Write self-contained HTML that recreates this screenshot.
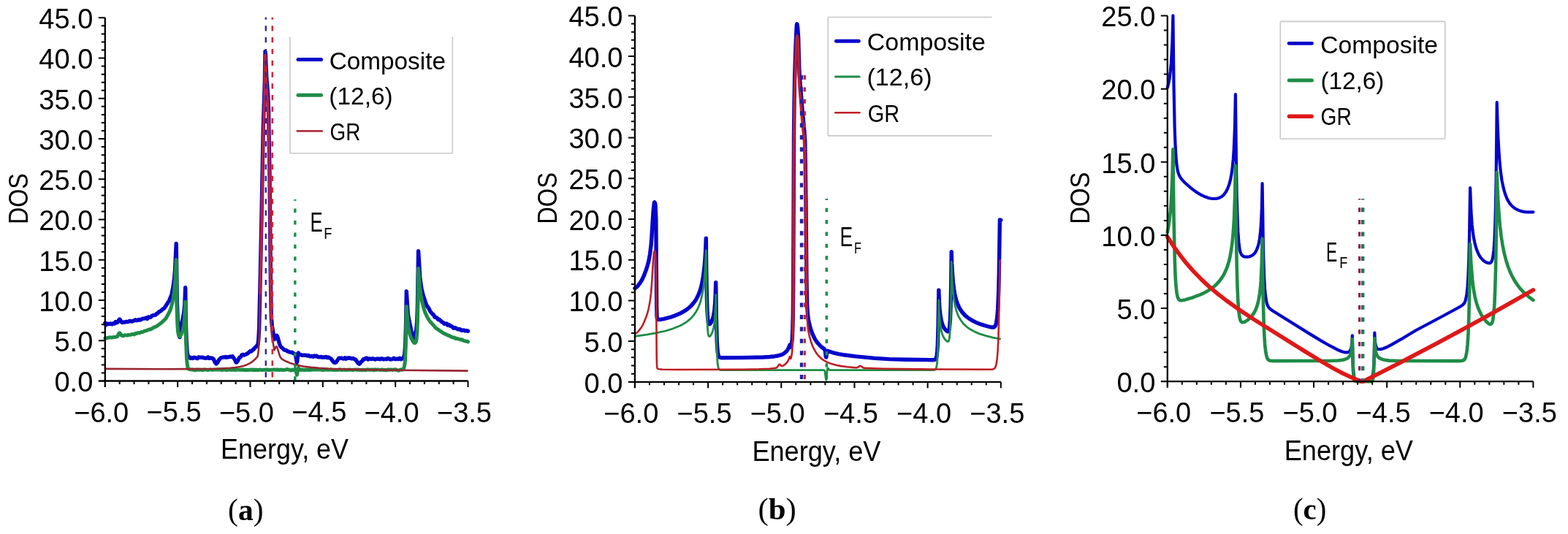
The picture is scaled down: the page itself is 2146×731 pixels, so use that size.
<!DOCTYPE html>
<html><head><meta charset="utf-8"><style>html,body{margin:0;padding:0;background:#fff;overflow:hidden}svg{display:block}</style></head><body>
<svg width="2146" height="731" viewBox="0 0 2146 731" font-family="'Liberation Sans', sans-serif">
<rect width="2146" height="731" fill="#fff"/>
<path d="M143.8,442.3 L145.4,444.8 L147.0,443.0 L148.6,443.5 L151.8,443.0 L153.4,443.9 L155.0,442.8 L156.6,443.0 L158.2,440.5 L159.8,441.8 L160.4,441.6 L161.4,440.5 L163.0,437.6 L163.6,437.1 L164.5,437.7 L166.2,440.8 L167.7,441.5 L169.4,441.0 L171.0,441.1 L172.6,440.3 L174.2,440.7 L175.8,440.4 L177.4,439.3 L180.6,440.0 L183.8,438.8 L185.4,437.8 L187.0,438.7 L188.6,438.4 L190.2,437.4 L191.8,438.0 L195.0,436.3 L198.2,435.9 L199.8,435.1 L201.4,436.5 L203.0,433.9 L204.6,434.5 L206.2,434.3 L207.8,432.5 L209.4,431.7 L212.6,431.1 L214.2,429.7 L215.8,428.8 L217.4,427.0 L220.6,425.3 L222.2,423.5 L223.8,422.6 L225.4,421.3 L231.8,411.1 L235.0,403.1 L237.1,392.0 L238.5,381.9 L239.5,370.6 L241.2,333.4 L242.4,415.1 L243.2,436.4 L244.4,452.4 L245.4,460.0 L245.8,461.4 L246.1,461.5 L246.3,461.2 L249.0,441.9 L251.6,429.1 L252.8,416.8 L253.7,393.6 L254.3,438.5 L255.1,465.6 L256.1,481.2 L256.7,485.6 L257.5,488.2 L258.1,488.7 L259.0,488.6 L260.6,490.5 L262.2,489.7 L263.8,490.5 L265.4,489.1 L270.2,490.8 L271.8,488.9 L273.4,489.4 L276.6,489.2 L279.8,490.1 L281.4,490.2 L283.0,490.1 L284.6,488.9 L286.2,490.5 L287.8,490.0 L290.0,490.2 L291.3,490.8 L292.6,492.2 L294.2,495.8 L295.8,498.0 L297.2,497.0 L300.6,491.4 L302.3,489.9 L305.4,489.0 L307.0,489.1 L308.6,488.5 L310.2,489.3 L311.8,488.6 L313.4,488.7 L315.0,488.2 L316.6,488.5 L318.2,487.8 L321.4,492.3 L322.8,495.7 L323.3,496.2 L324.1,495.7 L325.5,493.9 L327.8,489.3 L329.4,488.8 L331.0,485.8 L332.6,485.3 L334.2,486.1 L337.4,484.7 L340.6,482.5 L342.2,480.8 L343.8,481.0 L345.4,479.4 L347.0,478.4 L348.6,476.1 L350.2,475.0 L351.8,472.9 L352.5,472.5 L353.2,469.9 L353.8,464.9 L354.7,448.6 L357.8,306.1 L360.2,175.9 L362.4,110.3 L363.0,70.4 L363.5,76.1 L364.7,104.9 L366.8,131.8 L367.5,149.7 L369.0,238.7 L370.4,383.8 L371.3,434.0 L372.3,446.5 L375.5,464.5 L377.8,459.8 L378.4,459.2 L378.9,459.3 L380.1,462.1 L382.7,471.4 L384.0,474.0 L385.2,475.6 L387.0,476.9 L388.6,478.8 L391.8,479.5 L393.4,480.8 L396.6,482.1 L398.2,482.4 L399.8,482.3 L401.4,483.5 L403.6,484.4 L404.6,486.8 L406.3,496.3 L406.8,494.1 L407.8,484.2 L408.3,483.0 L409.4,485.3 L410.2,485.4 L411.0,485.1 L412.6,486.2 L417.4,486.1 L419.0,486.4 L420.6,487.0 L422.2,486.4 L423.8,487.7 L425.4,487.8 L427.0,487.4 L428.6,488.3 L430.2,487.0 L431.8,487.7 L433.4,487.2 L435.0,488.6 L436.6,488.9 L439.8,488.5 L441.4,489.3 L443.0,488.9 L444.6,489.2 L446.2,488.4 L447.8,489.7 L449.4,488.9 L453.5,491.6 L456.2,495.3 L457.2,496.2 L458.2,496.6 L459.5,496.2 L460.3,495.5 L463.3,490.9 L463.8,490.3 L464.4,490.2 L467.8,490.2 L470.2,491.1 L471.8,489.9 L473.4,491.3 L475.0,490.0 L476.6,490.4 L478.2,489.9 L481.4,491.0 L483.0,490.5 L486.5,492.2 L490.1,497.2 L491.7,498.2 L492.6,497.8 L494.2,495.4 L495.8,494.2 L497.4,491.7 L499.0,491.8 L500.6,490.3 L502.2,490.3 L503.8,492.1 L505.4,490.9 L508.6,491.6 L510.2,490.8 L513.4,492.1 L515.0,491.3 L518.2,491.2 L519.8,491.9 L521.4,490.9 L523.0,490.9 L524.6,491.9 L527.8,491.4 L529.4,491.7 L531.0,490.4 L534.2,492.0 L535.8,491.9 L537.4,491.5 L539.0,490.2 L540.6,491.6 L543.8,491.2 L545.4,491.6 L547.0,490.3 L548.6,491.8 L550.2,491.0 L551.7,490.7 L552.8,488.7 L553.7,485.2 L554.7,473.1 L555.6,444.3 L556.3,398.7 L557.6,420.0 L558.5,431.0 L559.5,436.9 L562.3,449.9 L564.8,465.5 L565.3,466.9 L566.0,466.0 L569.8,450.9 L570.7,440.1 L571.4,419.7 L572.6,343.6 L574.7,378.5 L575.8,388.3 L577.3,397.3 L579.4,405.2 L582.7,415.1 L583.8,417.9 L587.0,422.4 L588.6,425.9 L591.8,429.9 L593.4,430.9 L595.0,434.2 L596.6,434.4 L598.2,435.3 L599.8,437.6 L601.4,437.5 L604.6,440.7 L606.2,441.3 L607.8,443.1 L609.4,443.4 L611.0,442.9 L612.6,445.1 L614.2,444.4 L615.8,446.1 L617.4,446.2 L619.0,447.3 L620.6,449.1 L622.2,448.8 L623.8,449.0 L625.4,450.2 L627.0,450.8 L628.6,450.4 L631.8,452.4 L635.0,451.9 L636.6,453.0 L638.2,452.6 L639.8,452.7 L640.5,453.2" stroke="#0505cc" stroke-width="5.4" fill="none" stroke-linejoin="round" stroke-linecap="round"/>
<path d="M143.8,463.1 L145.4,463.0 L148.6,462.1 L153.4,461.9 L159.8,461.1 L161.0,460.0 L162.9,456.3 L163.6,455.7 L164.4,456.2 L166.5,459.3 L169.4,459.7 L171.0,458.6 L174.2,459.1 L175.8,458.4 L179.0,458.2 L180.6,457.4 L183.8,457.9 L185.4,456.5 L187.0,456.5 L188.6,455.6 L190.2,455.8 L191.8,455.6 L193.4,454.4 L195.0,454.6 L198.2,453.0 L199.8,452.8 L204.6,450.9 L206.2,450.7 L209.4,448.9 L211.0,447.7 L212.6,447.6 L214.2,446.8 L220.6,442.1 L227.0,436.0 L231.8,427.2 L233.6,422.8 L235.2,417.3 L237.2,408.0 L238.6,397.9 L239.7,386.3 L241.2,355.4 L242.1,424.3 L242.8,443.2 L243.6,454.6 L244.7,459.4 L245.3,460.4 L246.2,460.5 L249.0,455.7 L250.6,450.6 L251.8,444.5 L252.6,436.7 L253.7,413.3 L254.4,462.3 L255.5,490.7 L256.2,498.5 L257.0,503.0 L257.9,504.9 L259.8,505.8 L263.8,506.0 L267.0,506.8 L268.6,506.2 L270.2,506.0 L278.2,506.5 L279.8,505.9 L284.6,506.6 L287.8,505.9 L291.0,506.4 L292.6,505.9 L294.2,505.9 L302.2,506.0 L303.8,506.5 L305.4,505.8 L307.0,506.2 L308.6,505.7 L310.2,506.8 L311.8,506.1 L313.4,506.0 L315.0,506.3 L319.8,506.1 L321.4,506.4 L326.2,505.9 L327.8,506.2 L332.6,506.0 L334.2,506.5 L335.8,506.6 L337.4,506.2 L339.0,506.6 L343.8,506.1 L345.4,506.5 L347.0,506.0 L348.6,506.7 L350.2,506.1 L351.8,506.7 L353.4,506.6 L355.0,506.1 L358.2,506.5 L366.2,506.0 L367.8,506.4 L375.8,505.9 L377.4,506.3 L380.6,506.0 L382.2,506.4 L385.4,506.1 L387.0,506.4 L390.2,506.3 L393.4,505.5 L395.0,506.3 L396.6,506.3 L398.2,506.9 L399.8,506.2 L403.0,506.5 L404.5,506.4 L405.0,507.6 L406.3,513.3 L406.8,511.9 L407.7,504.8 L408.3,503.5 L410.0,505.8 L411.0,506.5 L412.6,506.0 L414.2,506.0 L415.8,506.6 L417.4,506.6 L419.0,506.1 L422.2,506.6 L428.6,506.0 L430.2,506.1 L431.8,505.8 L435.0,506.1 L438.2,505.9 L441.4,506.6 L443.0,506.0 L444.6,506.2 L446.2,505.8 L447.8,506.2 L451.0,506.2 L452.6,505.8 L454.2,506.2 L459.0,506.4 L463.8,506.2 L465.4,505.7 L467.0,506.4 L471.8,506.1 L473.4,506.6 L478.2,506.1 L483.0,506.5 L486.2,505.9 L487.8,506.2 L491.0,506.1 L492.6,506.5 L497.4,506.2 L500.6,506.6 L502.2,505.9 L503.8,505.8 L505.4,506.3 L510.2,506.0 L511.8,506.7 L513.4,505.8 L515.0,506.4 L516.6,505.9 L519.8,506.4 L523.0,506.0 L524.6,506.5 L527.8,506.4 L529.4,506.7 L531.0,505.9 L534.2,506.3 L535.8,505.9 L537.4,506.5 L540.6,505.8 L542.2,506.0 L543.8,506.9 L545.4,507.2 L548.6,505.9 L550.2,506.2 L550.9,506.0 L552.3,504.7 L553.3,502.0 L554.1,497.1 L554.7,489.8 L555.6,463.3 L556.3,419.5 L558.1,442.4 L559.4,451.1 L561.1,457.8 L563.0,463.4 L566.6,469.1 L567.7,469.6 L568.6,469.1 L569.3,467.7 L570.0,464.6 L570.9,454.2 L571.5,436.8 L572.6,367.5 L574.6,393.8 L576.0,404.1 L577.7,413.2 L580.2,422.9 L582.1,428.4 L585.4,435.4 L588.6,440.2 L596.6,449.1 L607.8,456.6 L611.0,457.8 L612.6,459.0 L614.2,459.2 L619.0,461.8 L622.2,462.3 L623.8,463.6 L625.4,463.3 L630.2,464.9 L631.8,464.8 L635.0,466.5 L639.8,467.5 L640.5,467.9" stroke="#1e8c46" stroke-width="5" fill="none" stroke-linejoin="round" stroke-linecap="round"/>
<path d="M143.8,504.9 L222.1,505.2 L267.6,505.1 L296.2,504.7 L314.9,503.7 L322.3,503.0 L328.5,502.0 L333.7,500.7 L338.2,499.2 L342.2,497.2 L345.8,494.8 L349.1,491.8 L352.4,488.1 L353.1,485.4 L353.8,479.7 L354.5,470.5 L354.7,463.7 L358.0,314.4 L360.2,188.4 L362.4,116.2 L363.0,75.5 L363.5,82.3 L364.6,116.0 L366.8,145.7 L367.5,166.6 L369.0,254.0 L370.4,395.8 L371.3,448.7 L371.5,454.4 L372.2,460.9 L375.5,479.2 L377.5,475.0 L378.1,474.4 L378.7,474.6 L379.3,475.4 L379.9,477.0 L382.6,486.3 L384.0,489.5 L385.0,490.7 L386.3,491.8 L391.8,494.8 L398.6,497.6 L406.2,499.8 L415.0,501.6 L425.4,502.9 L436.7,503.9 L450.1,504.7 L486.9,505.9 L544.1,506.8 L640.5,507.6" stroke="#9a2630" stroke-width="2.6" fill="none" stroke-linejoin="round"/>
<path d="M356.0,402.8 L358.2,304.3 L360.2,188.4 L362.4,116.2 L363.0,75.5 L363.5,82.3 L364.6,116.0 L366.8,145.7 L367.5,166.6 L369.2,265.3 L370.4,395.8 L371.0,435.3" stroke="#c41e3a" stroke-width="4" fill="none" stroke-linejoin="round" stroke-opacity="0.85"/>
<line x1="363.8" y1="23.7" x2="363.8" y2="521" stroke="#2a2a9a" stroke-width="2.4" stroke-dasharray="7.2 8.6" stroke-dashoffset="4.2"/>
<line x1="372.8" y1="23.7" x2="372.8" y2="521" stroke="#d0283a" stroke-width="2.6" stroke-dasharray="7.2 8.6" stroke-dashoffset="4.2"/>
<line x1="403.8" y1="273" x2="403.8" y2="521" stroke="#1e8c50" stroke-width="3.4" stroke-dasharray="5.5 10.9" stroke-dashoffset="3.8"/>
<path d="M143.80,24.30 L143.80,530.00 M134.80,521.50 L640.50,521.50" stroke="#000" stroke-width="2.3" fill="none"/>
<path d="M138.80,510.45 H143.80 M138.80,499.40 H143.80 M138.80,488.35 H143.80 M138.80,477.30 H143.80 M134.80,466.26 H143.80 M138.80,455.21 H143.80 M138.80,444.16 H143.80 M138.80,433.11 H143.80 M138.80,422.06 H143.80 M134.80,411.01 H143.80 M138.80,399.96 H143.80 M138.80,388.91 H143.80 M138.80,377.86 H143.80 M138.80,366.82 H143.80 M134.80,355.77 H143.80 M138.80,344.72 H143.80 M138.80,333.67 H143.80 M138.80,322.62 H143.80 M138.80,311.57 H143.80 M134.80,300.52 H143.80 M138.80,289.47 H143.80 M138.80,278.42 H143.80 M138.80,267.38 H143.80 M138.80,256.33 H143.80 M134.80,245.28 H143.80 M138.80,234.23 H143.80 M138.80,223.18 H143.80 M138.80,212.13 H143.80 M138.80,201.08 H143.80 M134.80,190.03 H143.80 M138.80,178.98 H143.80 M138.80,167.94 H143.80 M138.80,156.89 H143.80 M138.80,145.84 H143.80 M134.80,134.79 H143.80 M138.80,123.74 H143.80 M138.80,112.69 H143.80 M138.80,101.64 H143.80 M138.80,90.59 H143.80 M134.80,79.54 H143.80 M138.80,68.50 H143.80 M138.80,57.45 H143.80 M138.80,46.40 H143.80 M138.80,35.35 H143.80 M134.80,24.30 H143.80 M163.67,521.50 V526.00 M183.54,521.50 V526.00 M203.40,521.50 V526.00 M223.27,521.50 V526.00 M243.14,521.50 V530.00 M263.01,521.50 V526.00 M282.88,521.50 V526.00 M302.74,521.50 V526.00 M322.61,521.50 V526.00 M342.48,521.50 V530.00 M362.35,521.50 V526.00 M382.22,521.50 V526.00 M402.08,521.50 V526.00 M421.95,521.50 V526.00 M441.82,521.50 V530.00 M461.69,521.50 V526.00 M481.56,521.50 V526.00 M501.42,521.50 V526.00 M521.29,521.50 V526.00 M541.16,521.50 V530.00 M561.03,521.50 V526.00 M580.90,521.50 V526.00 M600.76,521.50 V526.00 M620.63,521.50 V526.00 M640.50,521.50 V530.00" stroke="#000" stroke-width="2" fill="none"/>
<text x="74.46" y="536.27" font-size="38.00">0.0</text>
<text x="74.46" y="481.03" font-size="38.00">5.0</text>
<text x="53.33" y="425.78" font-size="38.00">10.0</text>
<text x="53.33" y="370.54" font-size="38.00">15.0</text>
<text x="53.33" y="315.29" font-size="38.00">20.0</text>
<text x="53.33" y="260.05" font-size="38.00">25.0</text>
<text x="53.33" y="204.81" font-size="38.00">30.0</text>
<text x="53.33" y="149.56" font-size="38.00">35.0</text>
<text x="53.33" y="94.32" font-size="38.00">40.0</text>
<text x="53.33" y="39.07" font-size="38.00">45.0</text>
<text x="101.20" y="577.72" font-size="38.00">−6.0</text>
<text x="200.60" y="577.34" font-size="38.00">−5.5</text>
<text x="299.88" y="577.72" font-size="38.00">−5.0</text>
<text x="399.28" y="577.34" font-size="38.00">−4.5</text>
<text x="498.56" y="577.72" font-size="38.00">−4.0</text>
<text x="597.96" y="577.72" font-size="38.00">−3.5</text>
<path d="M868.9,394.7 L871.1,393.1 L873.5,390.6 L877.1,385.7 L879.1,382.2 L881.5,376.9 L884.3,369.4 L886.1,363.7 L887.7,357.7 L889.5,348.2 L891.0,336.1 L891.9,324.3 L894.1,289.0 L895.2,279.0 L895.5,277.2 L895.8,276.9 L896.2,277.3 L896.6,278.4 L897.0,280.9 L897.8,299.9 L898.7,420.9 L899.0,432.1 L899.3,436.0 L899.6,437.1 L901.3,437.5 L904.7,437.2 L908.4,436.6 L913.8,435.2 L918.9,433.8 L923.7,432.1 L928.1,430.3 L932.2,428.4 L938.6,424.6 L941.5,422.5 L944.1,420.3 L946.5,417.9 L948.7,415.4 L950.8,412.7 L952.7,409.9 L955.7,404.0 L958.3,397.2 L960.4,389.5 L962.1,380.5 L963.5,370.2 L964.7,357.8 L965.6,343.3 L966.3,326.1 L966.7,370.4 L967.3,403.2 L967.9,424.3 L968.8,437.1 L969.3,440.6 L969.9,442.8 L970.6,443.8 L971.0,443.8 L971.5,443.6 L972.9,442.0 L974.3,439.3 L975.6,435.8 L976.6,431.9 L977.8,424.5 L978.6,415.3 L979.2,403.6 L979.7,386.7 L980.4,436.0 L981.2,466.8 L981.7,475.8 L982.3,482.1 L983.1,486.1 L983.6,487.6 L984.1,488.5 L985.4,489.4 L987.6,489.7 L1015.5,489.6 L1044.4,489.0 L1053.4,488.5 L1060.3,487.7 L1064.8,487.0 L1068.5,485.9 L1071.5,484.7 L1074.0,483.1 L1076.2,481.1 L1078.0,478.6 L1079.6,475.6 L1081.0,472.0 L1081.7,474.7 L1082.0,475.1 L1082.4,474.7 L1082.9,473.3 L1083.4,471.0 L1084.2,464.5 L1084.8,450.9 L1085.3,429.4 L1085.7,393.7 L1086.5,185.6 L1087.0,140.8 L1087.7,102.8 L1089.0,62.6 L1090.0,40.0 L1090.4,34.3 L1090.8,32.8 L1091.2,34.2 L1091.7,38.3 L1092.6,50.2 L1093.8,93.7 L1094.3,104.0 L1097.8,147.7 L1100.8,179.7 L1101.7,192.2 L1102.2,219.0 L1103.0,279.4 L1103.9,379.4 L1104.6,415.6 L1104.9,422.1 L1105.4,429.4 L1106.3,436.9 L1107.8,444.0 L1109.6,450.7 L1112.2,457.8 L1115.4,464.3 L1117.2,467.1 L1119.1,469.7 L1123.1,473.9 L1125.4,475.8 L1128.2,477.8 L1128.7,478.3 L1129.3,480.4 L1130.2,487.7 L1130.6,489.1 L1130.9,488.1 L1131.9,481.5 L1132.2,480.5 L1132.7,480.2 L1137.7,482.0 L1142.2,483.4 L1147.7,484.6 L1154.0,485.7 L1171.1,487.9 L1197.1,490.4 L1217.2,491.6 L1240.8,492.3 L1276.2,492.7 L1278.7,492.5 L1280.1,491.9 L1280.7,491.2 L1281.2,490.1 L1282.1,486.6 L1282.7,481.0 L1283.3,472.5 L1284.1,445.2 L1284.8,397.1 L1285.4,413.2 L1286.1,424.7 L1287.3,433.9 L1288.8,440.9 L1290.1,444.9 L1291.7,448.3 L1293.7,451.1 L1295.8,453.2 L1297.1,453.9 L1297.6,453.8 L1298.1,453.4 L1298.8,451.9 L1299.4,449.0 L1300.4,438.1 L1301.1,419.5 L1301.7,388.9 L1302.2,344.7 L1302.7,360.9 L1303.5,375.0 L1304.4,386.5 L1305.6,395.9 L1307.0,404.1 L1308.8,411.2 L1311.0,417.3 L1313.6,422.6 L1317.1,427.6 L1321.2,432.1 L1326.1,436.0 L1331.8,439.4 L1335.9,441.4 L1340.4,443.2 L1345.3,444.9 L1350.7,446.5 L1355.2,447.6 L1358.0,448.0 L1359.8,448.0 L1361.1,447.3 L1362.0,446.4 L1362.7,444.9 L1363.9,440.3 L1364.9,432.9 L1365.7,422.2 L1366.5,403.0 L1367.2,377.4 L1368.4,301.0 L1369.8,301.3" stroke="#0505cc" stroke-width="5.4" fill="none" stroke-linejoin="round" stroke-linecap="round"/>
<path d="M868.9,460.3 L885.0,458.2 L898.9,455.7 L910.9,453.0 L921.1,449.8 L929.9,446.3 L933.7,444.4 L937.2,442.3 L940.5,440.1 L943.4,437.7 L946.1,435.2 L948.6,432.4 L950.7,429.6 L952.8,426.5 L954.6,423.2 L956.2,419.8 L957.6,416.0 L959.0,411.8 L961.2,402.4 L963.0,391.6 L964.4,378.4 L965.5,362.0 L966.3,342.9 L966.7,387.2 L967.3,420.0 L968.0,442.3 L968.8,454.4 L969.3,457.7 L969.9,459.8 L970.7,460.6 L971.6,460.4 L972.9,458.8 L974.4,456.0 L975.6,452.7 L976.6,448.8 L977.8,441.4 L978.6,432.2 L979.2,420.5 L979.7,403.6 L980.5,458.0 L980.9,475.6 L981.5,488.7 L982.1,497.3 L982.9,502.4 L983.4,504.1 L984.0,505.2 L984.7,505.9 L985.6,506.3 L987.2,506.6 L990.4,506.6 L1127.6,506.7 L1128.4,507.1 L1129.0,508.6 L1130.3,518.7 L1130.7,520.1 L1131.1,518.1 L1132.3,506.1 L1132.6,504.4 L1133.0,503.9 L1133.3,504.1 L1134.8,506.2 L1135.5,506.5 L1136.6,506.6 L1274.6,506.6 L1277.9,506.5 L1279.5,506.2 L1280.3,505.6 L1280.9,504.7 L1281.9,501.6 L1282.6,496.6 L1283.2,488.3 L1284.1,459.1 L1284.8,410.9 L1285.4,427.1 L1286.1,438.5 L1287.3,447.7 L1288.8,454.8 L1290.1,458.8 L1291.7,462.1 L1293.7,465.0 L1295.8,467.1 L1297.1,467.7 L1297.6,467.6 L1298.1,467.2 L1298.8,465.7 L1299.4,462.8 L1300.4,451.9 L1301.1,433.3 L1301.7,402.7 L1302.2,358.5 L1302.8,375.8 L1303.5,389.5 L1304.5,401.3 L1305.8,411.0 L1307.4,419.5 L1309.3,426.5 L1311.7,432.7 L1314.7,438.0 L1318.3,442.9 L1322.7,447.1 L1327.8,450.8 L1333.9,454.1 L1341.0,457.1 L1349.3,459.7 L1358.8,462.1 L1369.8,464.2" stroke="#1e8c46" stroke-width="2.8" fill="none" stroke-linejoin="round"/>
<path d="M868.9,457.1 L871.1,455.9 L873.5,453.6 L877.3,448.9 L879.2,445.9 L881.6,440.8 L884.4,433.7 L886.2,428.4 L887.7,422.5 L889.5,413.3 L891.0,401.7 L891.9,390.1 L894.1,355.1 L895.1,345.7 L895.5,343.8 L895.8,343.4 L896.2,343.9 L896.6,345.0 L897.0,347.6 L897.8,366.8 L898.7,487.9 L899.0,499.2 L899.3,503.2 L899.6,504.4 L901.5,505.2 L906.7,505.7 L926.4,506.0 L1017.9,505.7 L1039.1,505.3 L1052.9,504.7 L1059.6,504.0 L1062.6,503.4 L1063.9,502.5 L1065.9,499.4 L1066.7,498.7 L1067.5,499.0 L1068.9,500.5 L1069.7,501.0 L1070.6,501.1 L1071.7,500.7 L1074.7,498.7 L1077.2,496.0 L1079.2,492.6 L1081.0,488.1 L1081.7,490.9 L1082.0,491.2 L1082.4,490.8 L1083.4,486.9 L1084.2,480.6 L1084.8,467.1 L1085.3,445.5 L1085.7,409.9 L1086.5,201.8 L1087.0,157.0 L1087.7,118.9 L1088.9,81.7 L1089.9,57.0 L1090.4,50.9 L1090.8,49.0 L1091.1,49.7 L1091.7,54.0 L1092.6,66.4 L1093.8,109.9 L1094.3,120.2 L1097.8,163.9 L1100.8,195.8 L1101.7,208.4 L1102.2,235.2 L1103.0,295.5 L1103.9,392.2 L1104.5,425.8 L1104.9,439.0 L1105.6,447.7 L1106.3,453.3 L1107.9,460.6 L1109.6,466.7 L1111.9,473.2 L1114.5,478.7 L1117.3,483.4 L1120.6,487.5 L1124.1,490.9 L1128.1,493.7 L1132.7,496.1 L1138.0,498.1 L1144.0,499.8 L1151.1,501.1 L1159.4,502.2 L1169.2,503.1 L1171.8,503.2 L1173.3,503.1 L1174.4,502.6 L1176.5,501.1 L1177.4,500.9 L1178.5,501.2 L1181.1,503.3 L1183.0,503.9 L1208.2,504.7 L1260.7,505.4 L1349.0,505.8 L1357.0,505.7 L1358.8,505.5 L1360.1,505.0 L1361.2,504.2 L1362.1,502.9 L1362.8,501.2 L1363.5,498.9 L1364.6,492.0 L1365.5,481.5 L1366.4,463.1 L1367.1,437.5 L1367.8,403.2 L1368.4,356.5 L1369.8,356.5" stroke="#c01e24" stroke-width="2.6" fill="none" stroke-linejoin="round"/>
<path d="M1085.0,457.4 L1085.7,418.1 L1086.5,201.8 L1087.0,160.6 L1087.6,123.0 L1088.5,93.5 L1089.8,59.9 L1090.2,52.5 L1090.7,49.2 L1090.8,49.0 L1091.0,49.4 L1091.6,53.5 L1092.6,66.4 L1093.8,109.9 L1094.4,121.6 L1097.7,162.7 L1100.5,192.3 L1101.6,207.0 L1102.2,232.0 L1103.0,295.5 L1104.0,398.6" stroke="#c01e24" stroke-width="4" fill="none" stroke-linejoin="round" stroke-opacity="0.8"/>
<line x1="1101.4" y1="103" x2="1101.4" y2="522" stroke="#c0203a" stroke-width="3" stroke-dasharray="6 10.4"/>
<line x1="1097" y1="103" x2="1097" y2="522" stroke="#2020a8" stroke-width="4.4" stroke-dasharray="6 10.4"/>
<line x1="1131.3" y1="272" x2="1131.3" y2="522" stroke="#1e8c50" stroke-width="3.6" stroke-dasharray="5.5 10.85" stroke-dashoffset="3.6"/>
<path d="M868.90,21.40 L868.90,531.30 M859.90,522.80 L1369.80,522.80" stroke="#000" stroke-width="2.3" fill="none"/>
<path d="M863.90,511.66 H868.90 M863.90,500.52 H868.90 M863.90,489.37 H868.90 M863.90,478.23 H868.90 M859.90,467.09 H868.90 M863.90,455.95 H868.90 M863.90,444.80 H868.90 M863.90,433.66 H868.90 M863.90,422.52 H868.90 M859.90,411.38 H868.90 M863.90,400.24 H868.90 M863.90,389.09 H868.90 M863.90,377.95 H868.90 M863.90,366.81 H868.90 M859.90,355.67 H868.90 M863.90,344.52 H868.90 M863.90,333.38 H868.90 M863.90,322.24 H868.90 M863.90,311.10 H868.90 M859.90,299.96 H868.90 M863.90,288.81 H868.90 M863.90,277.67 H868.90 M863.90,266.53 H868.90 M863.90,255.39 H868.90 M859.90,244.24 H868.90 M863.90,233.10 H868.90 M863.90,221.96 H868.90 M863.90,210.82 H868.90 M863.90,199.68 H868.90 M859.90,188.53 H868.90 M863.90,177.39 H868.90 M863.90,166.25 H868.90 M863.90,155.11 H868.90 M863.90,143.96 H868.90 M859.90,132.82 H868.90 M863.90,121.68 H868.90 M863.90,110.54 H868.90 M863.90,99.40 H868.90 M863.90,88.25 H868.90 M859.90,77.11 H868.90 M863.90,65.97 H868.90 M863.90,54.83 H868.90 M863.90,43.68 H868.90 M863.90,32.54 H868.90 M859.90,21.40 H868.90 M888.94,522.80 V527.30 M908.97,522.80 V527.30 M929.01,522.80 V527.30 M949.04,522.80 V527.30 M969.08,522.80 V531.30 M989.12,522.80 V527.30 M1009.15,522.80 V527.30 M1029.19,522.80 V527.30 M1049.22,522.80 V527.30 M1069.26,522.80 V531.30 M1089.30,522.80 V527.30 M1109.33,522.80 V527.30 M1129.37,522.80 V527.30 M1149.40,522.80 V527.30 M1169.44,522.80 V531.30 M1189.48,522.80 V527.30 M1209.51,522.80 V527.30 M1229.55,522.80 V527.30 M1249.58,522.80 V527.30 M1269.62,522.80 V531.30 M1289.66,522.80 V527.30 M1309.69,522.80 V527.30 M1329.73,522.80 V527.30 M1349.76,522.80 V527.30 M1369.80,522.80 V531.30" stroke="#000" stroke-width="2" fill="none"/>
<text x="799.56" y="537.57" font-size="38.00">0.0</text>
<text x="799.56" y="481.86" font-size="38.00">5.0</text>
<text x="778.43" y="426.15" font-size="38.00">10.0</text>
<text x="778.43" y="370.44" font-size="38.00">15.0</text>
<text x="778.43" y="314.73" font-size="38.00">20.0</text>
<text x="778.43" y="259.02" font-size="38.00">25.0</text>
<text x="778.43" y="203.31" font-size="38.00">30.0</text>
<text x="778.43" y="147.59" font-size="38.00">35.0</text>
<text x="778.43" y="91.88" font-size="38.00">40.0</text>
<text x="778.43" y="36.17" font-size="38.00">45.0</text>
<text x="826.30" y="579.02" font-size="38.00">−6.0</text>
<text x="926.54" y="578.64" font-size="38.00">−5.5</text>
<text x="1026.66" y="579.02" font-size="38.00">−5.0</text>
<text x="1126.90" y="578.64" font-size="38.00">−4.5</text>
<text x="1227.02" y="579.02" font-size="38.00">−4.0</text>
<text x="1327.26" y="579.02" font-size="38.00">−3.5</text>
<path d="M1597.8,120.1 L1599.4,113.9 L1600.7,106.6 L1601.8,97.4 L1602.8,86.9 L1603.6,74.0 L1604.4,58.3 L1605.4,21.4 L1606.5,116.2 L1607.7,176.4 L1608.5,197.2 L1609.4,213.5 L1610.4,225.1 L1611.7,233.3 L1612.6,236.6 L1613.6,239.4 L1614.8,241.9 L1616.3,244.2 L1618.6,246.9 L1621.8,250.2 L1629.8,257.3 L1633.8,260.4 L1637.8,263.2 L1641.7,265.6 L1645.5,267.6 L1649.2,269.3 L1652.8,270.6 L1656.2,271.5 L1659.5,272.0 L1664.0,272.0 L1666.1,271.7 L1668.1,271.1 L1670.0,270.3 L1671.8,269.2 L1673.4,268.0 L1675.0,266.5 L1677.8,262.8 L1680.2,258.1 L1682.3,252.4 L1684.1,245.6 L1685.5,237.9 L1686.8,228.6 L1687.8,217.9 L1688.7,204.9 L1690.0,173.6 L1690.9,129.0 L1692.1,233.0 L1692.7,268.3 L1693.5,296.1 L1694.3,316.4 L1695.4,331.4 L1696.6,341.0 L1697.4,344.4 L1698.3,347.0 L1699.1,348.6 L1700.2,349.8 L1701.4,350.7 L1702.9,351.3 L1705.1,351.6 L1707.5,351.6 L1709.8,351.3 L1711.9,350.6 L1713.5,349.8 L1715.0,348.8 L1716.3,347.5 L1717.6,346.1 L1719.8,342.3 L1721.6,337.5 L1723.0,332.2 L1724.1,325.9 L1725.0,318.0 L1725.8,308.8 L1726.9,284.9 L1727.6,251.1 L1728.8,331.5 L1729.5,359.5 L1730.2,379.8 L1731.1,395.4 L1732.2,406.4 L1733.5,413.9 L1734.3,416.7 L1735.2,418.8 L1736.2,420.6 L1737.5,422.0 L1739.1,423.5 L1741.5,425.2 L1791.0,456.1 L1807.5,466.1 L1819.9,473.2 L1829.4,478.2 L1836.4,481.2 L1840.5,482.3 L1843.7,482.4 L1845.0,482.2 L1846.1,481.7 L1847.0,480.9 L1847.8,479.9 L1849.1,477.3 L1849.9,473.2 L1850.5,467.6 L1850.8,459.4 L1851.7,497.7 L1852.3,508.5 L1853.0,514.6 L1853.8,517.3 L1854.4,518.2 L1855.1,518.9 L1857.2,520.0 L1862.9,522.2 L1865.7,522.2 L1875.7,517.1 L1876.9,516.4 L1877.7,515.6 L1878.3,514.6 L1878.8,513.2 L1879.3,510.8 L1879.7,507.2 L1880.4,496.9 L1880.9,481.1 L1881.3,455.6 L1881.6,463.1 L1882.1,469.0 L1882.9,473.1 L1883.9,476.0 L1885.0,477.4 L1886.0,478.0 L1889.4,478.1 L1893.0,477.3 L1897.8,475.3 L1904.4,471.9 L1917.1,464.7 L1938.2,452.0 L1969.4,435.5 L1997.1,420.5 L2000.0,418.8 L2001.8,417.4 L2003.2,416.0 L2004.4,414.4 L2005.3,412.3 L2006.1,409.7 L2007.4,402.8 L2008.5,392.7 L2009.4,378.1 L2010.2,358.0 L2010.9,329.9 L2012.1,257.2 L2013.4,289.5 L2014.6,307.7 L2015.7,316.8 L2016.8,324.7 L2018.2,331.7 L2019.8,338.0 L2021.8,343.9 L2024.1,348.8 L2026.7,352.9 L2029.7,356.1 L2031.6,357.7 L2033.6,358.9 L2035.6,359.8 L2037.4,360.2 L2038.7,360.2 L2039.8,359.8 L2040.8,359.0 L2041.6,357.7 L2042.4,355.3 L2043.2,352.1 L2044.4,342.9 L2045.4,328.7 L2046.2,308.4 L2046.9,282.4 L2047.6,246.3 L2048.7,140.0 L2049.5,166.3 L2050.4,188.4 L2051.4,206.7 L2052.6,222.8 L2054.0,236.4 L2055.6,247.6 L2057.6,257.1 L2059.8,265.0 L2062.4,271.8 L2063.9,274.7 L2065.6,277.4 L2067.3,279.7 L2069.2,281.8 L2071.3,283.7 L2073.5,285.4 L2075.9,286.8 L2078.5,287.9 L2081.2,288.9 L2084.2,289.6 L2087.4,290.1 L2090.8,290.4 L2098.4,290.3" stroke="#0505cc" stroke-width="4.2" fill="none" stroke-linejoin="round" stroke-linecap="round"/>
<path d="M1597.8,317.9 L1599.4,309.3 L1600.7,299.5 L1601.9,288.4 L1602.9,275.6 L1604.4,245.0 L1605.4,204.3 L1606.5,296.9 L1607.8,356.8 L1608.5,376.1 L1609.4,390.6 L1610.5,400.5 L1611.1,404.2 L1611.8,406.9 L1612.7,408.9 L1613.7,410.3 L1614.9,411.1 L1616.4,411.3 L1618.6,411.1 L1621.9,410.4 L1632.6,407.2 L1642.7,403.4 L1647.2,401.3 L1651.4,399.1 L1655.2,396.8 L1658.8,394.4 L1662.1,391.7 L1665.1,389.0 L1668.8,384.9 L1672.1,380.5 L1675.1,375.6 L1677.6,370.3 L1679.9,364.5 L1681.9,358.0 L1683.6,350.7 L1685.0,342.7 L1686.3,333.7 L1687.3,323.7 L1688.2,312.3 L1689.0,299.5 L1690.1,268.4 L1690.9,226.7 L1692.1,329.9 L1692.7,364.8 L1693.5,392.1 L1694.3,411.8 L1695.4,426.1 L1696.6,434.8 L1697.4,437.7 L1698.3,439.7 L1699.1,440.7 L1700.1,441.2 L1701.4,441.3 L1702.9,440.9 L1705.0,439.8 L1707.4,438.2 L1709.7,436.4 L1711.8,434.3 L1714.9,430.5 L1717.5,426.2 L1719.7,421.0 L1721.5,415.2 L1722.9,409.0 L1724.0,402.1 L1725.0,393.8 L1725.7,384.4 L1726.8,361.1 L1727.6,326.7 L1728.7,405.8 L1729.4,434.3 L1730.2,455.7 L1731.1,470.9 L1732.2,481.2 L1733.5,487.8 L1734.3,490.1 L1735.2,491.8 L1736.5,493.0 L1738.2,493.7 L1740.6,494.0 L1744.7,494.1 L1819.5,494.0 L1831.4,493.5 L1835.5,493.1 L1838.8,492.5 L1842.2,491.4 L1844.8,489.9 L1846.8,487.9 L1848.3,485.3 L1849.3,481.9 L1850.0,477.7 L1850.5,471.8 L1850.8,464.3 L1851.3,489.2 L1851.9,506.6 L1852.6,515.7 L1853.0,518.5 L1853.6,520.5 L1854.6,521.7 L1856.4,522.1 L1873.6,522.2 L1876.5,522.1 L1877.9,521.4 L1878.7,519.9 L1879.4,517.1 L1879.9,512.6 L1880.7,494.4 L1881.3,463.4 L1881.7,472.0 L1882.2,477.7 L1882.9,482.0 L1884.0,485.3 L1885.5,487.9 L1887.5,489.9 L1890.3,491.4 L1893.8,492.5 L1897.2,493.1 L1901.4,493.6 L1913.7,494.0 L1995.2,494.1 L1999.3,494.0 L2001.6,493.7 L2003.3,493.0 L2004.6,491.7 L2005.5,490.1 L2006.2,487.9 L2007.5,481.4 L2008.6,471.2 L2009.5,456.4 L2010.2,436.8 L2010.9,409.6 L2012.1,334.0 L2013.3,360.8 L2015.1,382.2 L2016.1,391.1 L2017.3,399.2 L2018.7,406.5 L2020.3,413.1 L2022.3,419.6 L2024.7,425.5 L2027.4,430.9 L2030.4,435.6 L2034.2,440.2 L2036.1,442.0 L2037.7,443.2 L2039.0,443.8 L2040.0,443.9 L2040.9,443.5 L2041.7,442.6 L2042.5,440.6 L2043.2,437.8 L2044.4,429.0 L2045.4,415.9 L2046.2,396.2 L2047.0,368.9 L2047.6,333.9 L2048.7,236.1 L2049.5,257.9 L2050.5,277.8 L2051.7,294.8 L2053.0,309.9 L2054.6,323.5 L2056.5,335.6 L2058.7,346.5 L2061.2,356.4 L2064.1,365.5 L2067.4,373.7 L2071.2,381.3 L2075.4,388.2 L2080.2,394.6 L2085.6,400.4 L2091.7,405.8 L2098.4,410.8" stroke="#1e8c46" stroke-width="4.6" fill="none" stroke-linejoin="round" stroke-linecap="round"/>
<path d="M1597.8,324.4 L1606.3,337.3 L1615.1,349.4 L1624.2,360.9 L1633.8,371.8 L1643.9,382.1 L1654.5,392.1 L1665.9,401.7 L1678.4,411.4 L1695.8,423.8 L1717.2,438.0 L1774.9,474.2 L1805.3,492.9 L1822.8,503.1 L1837.6,511.0 L1850.9,517.3 L1862.9,522.2 L1865.7,522.2 L1868.9,520.6 L1915.5,496.8 L1962.2,472.3 L1996.3,454.0 L2030.3,435.4 L2064.4,416.3 L2098.4,396.9" stroke="#e01818" stroke-width="5.6" fill="none" stroke-linejoin="round" stroke-linecap="round"/>
<line x1="1865.2" y1="272" x2="1865.2" y2="521" stroke="#1e7a5a" stroke-width="4.4" stroke-dasharray="6 10.7" stroke-dashoffset="4.5"/>
<line x1="1860.6" y1="272" x2="1860.6" y2="521" stroke="#8c1a50" stroke-width="3.2" stroke-dasharray="6 10.7" stroke-dashoffset="4.5"/>
<path d="M1597.80,21.50 L1597.80,530.70 M1588.80,522.20 L2098.40,522.20" stroke="#000" stroke-width="2.3" fill="none"/>
<path d="M1592.80,502.17 H1597.80 M1592.80,482.14 H1597.80 M1592.80,462.12 H1597.80 M1592.80,442.09 H1597.80 M1588.80,422.06 H1597.80 M1592.80,402.03 H1597.80 M1592.80,382.00 H1597.80 M1592.80,361.98 H1597.80 M1592.80,341.95 H1597.80 M1588.80,321.92 H1597.80 M1592.80,301.89 H1597.80 M1592.80,281.86 H1597.80 M1592.80,261.84 H1597.80 M1592.80,241.81 H1597.80 M1588.80,221.78 H1597.80 M1592.80,201.75 H1597.80 M1592.80,181.72 H1597.80 M1592.80,161.70 H1597.80 M1592.80,141.67 H1597.80 M1588.80,121.64 H1597.80 M1592.80,101.61 H1597.80 M1592.80,81.58 H1597.80 M1592.80,61.56 H1597.80 M1592.80,41.53 H1597.80 M1588.80,21.50 H1597.80 M1617.82,522.20 V526.70 M1637.85,522.20 V526.70 M1657.87,522.20 V526.70 M1677.90,522.20 V526.70 M1697.92,522.20 V530.70 M1717.94,522.20 V526.70 M1737.97,522.20 V526.70 M1757.99,522.20 V526.70 M1778.02,522.20 V526.70 M1798.04,522.20 V530.70 M1818.06,522.20 V526.70 M1838.09,522.20 V526.70 M1858.11,522.20 V526.70 M1878.14,522.20 V526.70 M1898.16,522.20 V530.70 M1918.18,522.20 V526.70 M1938.21,522.20 V526.70 M1958.23,522.20 V526.70 M1978.26,522.20 V526.70 M1998.28,522.20 V530.70 M2018.30,522.20 V526.70 M2038.33,522.20 V526.70 M2058.35,522.20 V526.70 M2078.38,522.20 V526.70 M2098.40,522.20 V530.70" stroke="#000" stroke-width="2" fill="none"/>
<text x="1528.46" y="536.97" font-size="38.00">0.0</text>
<text x="1528.46" y="436.83" font-size="38.00">5.0</text>
<text x="1507.33" y="336.69" font-size="38.00">10.0</text>
<text x="1507.33" y="236.55" font-size="38.00">15.0</text>
<text x="1507.33" y="136.41" font-size="38.00">20.0</text>
<text x="1507.33" y="36.27" font-size="38.00">25.0</text>
<text x="1555.20" y="578.42" font-size="38.00">−6.0</text>
<text x="1655.38" y="578.04" font-size="38.00">−5.5</text>
<text x="1755.44" y="578.42" font-size="38.00">−5.0</text>
<text x="1855.62" y="578.04" font-size="38.00">−4.5</text>
<text x="1955.68" y="578.42" font-size="38.00">−4.0</text>
<text x="2055.86" y="578.42" font-size="38.00">−3.5</text>
<text transform="translate(302.11,627.90) scale(0.9351,1)" font-size="38.40">Energy, eV</text>
<text transform="translate(1029.44,630.70) scale(0.9408,1)" font-size="38.40">Energy, eV</text>
<text transform="translate(1757.73,630.30) scale(0.9419,1)" font-size="38.40">Energy, eV</text>
<text transform="translate(38.08,307.04) rotate(-90) scale(0.8828,1)" font-size="36.5">DOS</text>
<text transform="translate(762.18,306.78) rotate(-90) scale(0.8949,1)" font-size="36.5">DOS</text>
<text transform="translate(1490.78,306.79) rotate(-90) scale(0.9003,1)" font-size="36.5">DOS</text>
<path d="M397,50.4 V209.8 M619.3,50.4 V209.8 M397,209.8 H619.3" stroke="#c8c8c8" stroke-width="1.6" fill="none"/>
<line x1="408.00" y1="81.4" x2="439.50" y2="81.4" stroke="#0505cc" stroke-width="5" stroke-linecap="round"/>
<line x1="408.00" y1="130.3" x2="439.50" y2="130.3" stroke="#1e8c46" stroke-width="5" stroke-linecap="round"/>
<line x1="406.80" y1="179.4" x2="440.70" y2="179.4" stroke="#b03040" stroke-width="2.6" stroke-linecap="round"/>
<text transform="translate(450.70,94.50) scale(1.0097,1)" font-size="33.00">Composite</text>
<text transform="translate(450.32,143.30) scale(1.0146,1)" font-size="33.00">(12,6)</text>
<text transform="translate(451.61,192.10) scale(0.8445,1)" font-size="33.00">GR</text>
<path d="M1133.3,23.5 V185.9 M1133.3,23.5 H1357.5 M1133.3,185.9 H1357.5" stroke="#c8c8c8" stroke-width="1.6" fill="none"/>
<line x1="1144.50" y1="56.3" x2="1175.20" y2="56.3" stroke="#0505cc" stroke-width="5" stroke-linecap="round"/>
<line x1="1143.50" y1="104.9" x2="1176.20" y2="104.9" stroke="#1e8c46" stroke-width="3" stroke-linecap="round"/>
<line x1="1143.20" y1="154.2" x2="1176.50" y2="154.2" stroke="#c01e24" stroke-width="2.4" stroke-linecap="round"/>
<text transform="translate(1186.87,68.60) scale(1.0265,1)" font-size="33.00">Composite</text>
<text transform="translate(1186.49,117.20) scale(1.0328,1)" font-size="33.00">(12,6)</text>
<text transform="translate(1187.76,166.50) scale(0.8747,1)" font-size="33.00">GR</text>
<path d="M1752.3,29.4 V190 M1977.7,29.4 V190 M1752.3,29.4 H1977.7 M1752.3,190 H1977.7" stroke="#c8c8c8" stroke-width="1.6" fill="none"/>
<line x1="1764.00" y1="59.4" x2="1795.60" y2="59.4" stroke="#0505cc" stroke-width="4.6" stroke-linecap="round"/>
<line x1="1764.20" y1="109.9" x2="1795.40" y2="109.9" stroke="#1e8c46" stroke-width="5" stroke-linecap="round"/>
<line x1="1764.50" y1="159.2" x2="1795.10" y2="159.2" stroke="#e01818" stroke-width="5.6" stroke-linecap="round"/>
<text transform="translate(1807.28,73.00) scale(1.0194,1)" font-size="33.00">Composite</text>
<text transform="translate(1807.44,121.70) scale(1.0073,1)" font-size="33.00">(12,6)</text>
<text transform="translate(1807.60,171.40) scale(0.8510,1)" font-size="33.00">GR</text>
<text transform="translate(424.54,316.80) scale(0.6944,1)" font-size="37.06">E</text>
<text transform="translate(443.19,327.00) scale(0.8222,1)" font-size="22.38">F</text>
<text transform="translate(1149.44,336.90) scale(0.6982,1)" font-size="37.79">E</text>
<text transform="translate(1169.08,347.00) scale(0.7613,1)" font-size="21.22">F</text>
<text transform="translate(1815.02,357.60) scale(0.6101,1)" font-size="37.50">E</text>
<text transform="translate(1833.21,367.30) scale(0.8293,1)" font-size="21.95">F</text>
<text transform="translate(312.07,711.56) scale(0.9755,1)" font-size="42.6" font-family="'Liberation Serif', serif">(<tspan font-weight="bold">a</tspan>)</text>
<text transform="translate(1037.51,711.36) scale(1.0059,1)" font-size="42.6" font-family="'Liberation Serif', serif">(<tspan font-weight="bold">b</tspan>)</text>
<text transform="translate(1770.00,711.36) scale(0.9602,1)" font-size="42.6" font-family="'Liberation Serif', serif">(<tspan font-weight="bold">c</tspan>)</text>
</svg>
</body></html>
